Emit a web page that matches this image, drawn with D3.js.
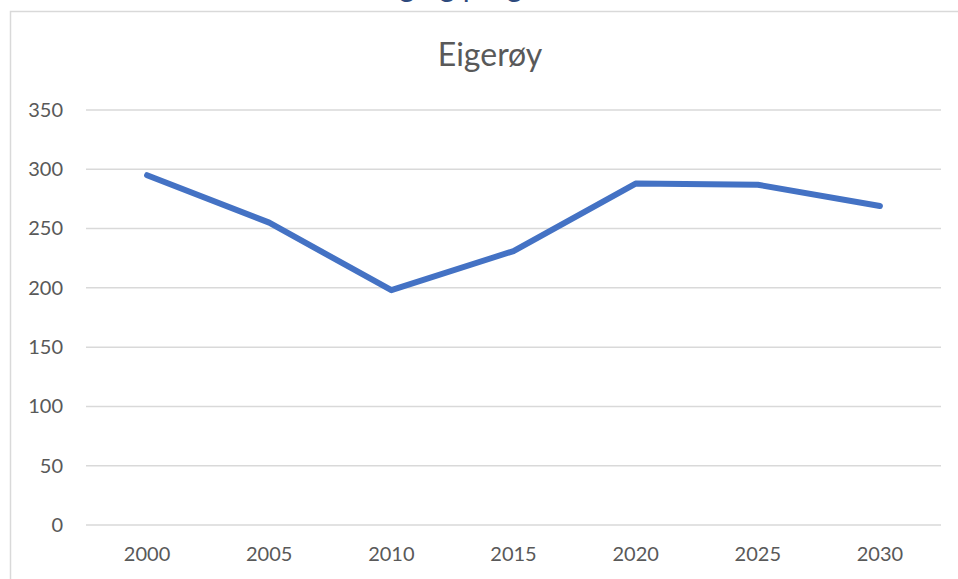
<!DOCTYPE html>
<html>
<head>
<meta charset="utf-8">
<script src="https://cdn.jsdelivr.net/npm/d3@7"></script>
<style>
  body { margin: 0; background: #fff; }
  text { font-family: Lato, "Open Sans", sans-serif; }
</style>
</head>
<body>
<div id="chart"></div>
<script>
const width = 958;
const height = 579;

// data
const years = ['2000', '2005', '2010', '2015', '2020', '2025', '2030'];
const population = [295, 255, 198, 231, 288, 287, 269];
const yTicks = [0, 50, 100, 150, 200, 250, 300, 350];
const chartTitle = 'Eigerøy';
const pageHeading = 'Folketallsutvikling og prognose';

const svg = d3.select('#chart')
    .append('svg')
    .attr('width', width)
    .attr('height', height);

// heading above the chart box, mostly cut off at the top edge
svg.append('text')
    .attr('x', 585)
    .attr('y', -3)
    .attr('text-anchor', 'end')
    .attr('font-size', 30)
    .attr('fill', '#2E4A7D')
    .text(pageHeading);

// chart area border
svg.append('rect')
    .attr('x', 10.5)
    .attr('y', 11.5)
    .attr('width', width + 10)
    .attr('height', height + 10)
    .attr('fill', '#fff')
    .attr('stroke', '#d9d9d9')
    .attr('stroke-width', 1.5);

const margin = { left: 86, right: 17, top: 110, bottom: 54 };

const x = d3.scaleBand()
    .domain(years)
    .range([margin.left, width - margin.right]);

const y = d3.scaleLinear()
    .domain([0, 350])
    .range([height - margin.bottom, margin.top]);

// horizontal gridlines
svg.append('g')
    .selectAll('line')
    .data(yTicks)
    .join('line')
    .attr('x1', margin.left)
    .attr('x2', width - margin.right)
    .attr('y1', d => y(d))
    .attr('y2', d => y(d))
    .attr('stroke', '#d9d9d9')
    .attr('stroke-width', 1.5);

// y axis labels
const yAxis = svg.append('g')
    .attr('transform', `translate(${margin.left - 23},0)`)
    .call(d3.axisLeft(y).tickValues(yTicks).tickSize(0).tickPadding(0));
yAxis.select('.domain').remove();
yAxis.selectAll('text')
    .attr('font-size', 20)
    .attr('fill', '#595959')
    .attr('font-family', 'Lato, sans-serif');

// x axis labels
const xAxis = svg.append('g')
    .attr('transform', `translate(0,${height - margin.bottom})`)
    .call(d3.axisBottom(x).tickSize(0).tickPadding(22));
xAxis.select('.domain').remove();
xAxis.selectAll('text')
    .attr('font-size', 20)
    .attr('fill', '#595959')
    .attr('font-family', 'Lato, sans-serif');

// the series line
const line = d3.line()
    .x((d, i) => x(years[i]) + x.bandwidth() / 2)
    .y(d => y(d));

svg.append('path')
    .datum(population)
    .attr('d', line)
    .attr('fill', 'none')
    .attr('stroke', '#4472C4')
    .attr('stroke-width', 6)
    .attr('stroke-linecap', 'round')
    .attr('stroke-linejoin', 'round');

// chart title
svg.append('text')
    .attr('x', 490)
    .attr('y', 66)
    .attr('text-anchor', 'middle')
    .attr('font-size', 32)
    .attr('fill', '#595959')
    .text(chartTitle);
</script>
</body>
</html>
